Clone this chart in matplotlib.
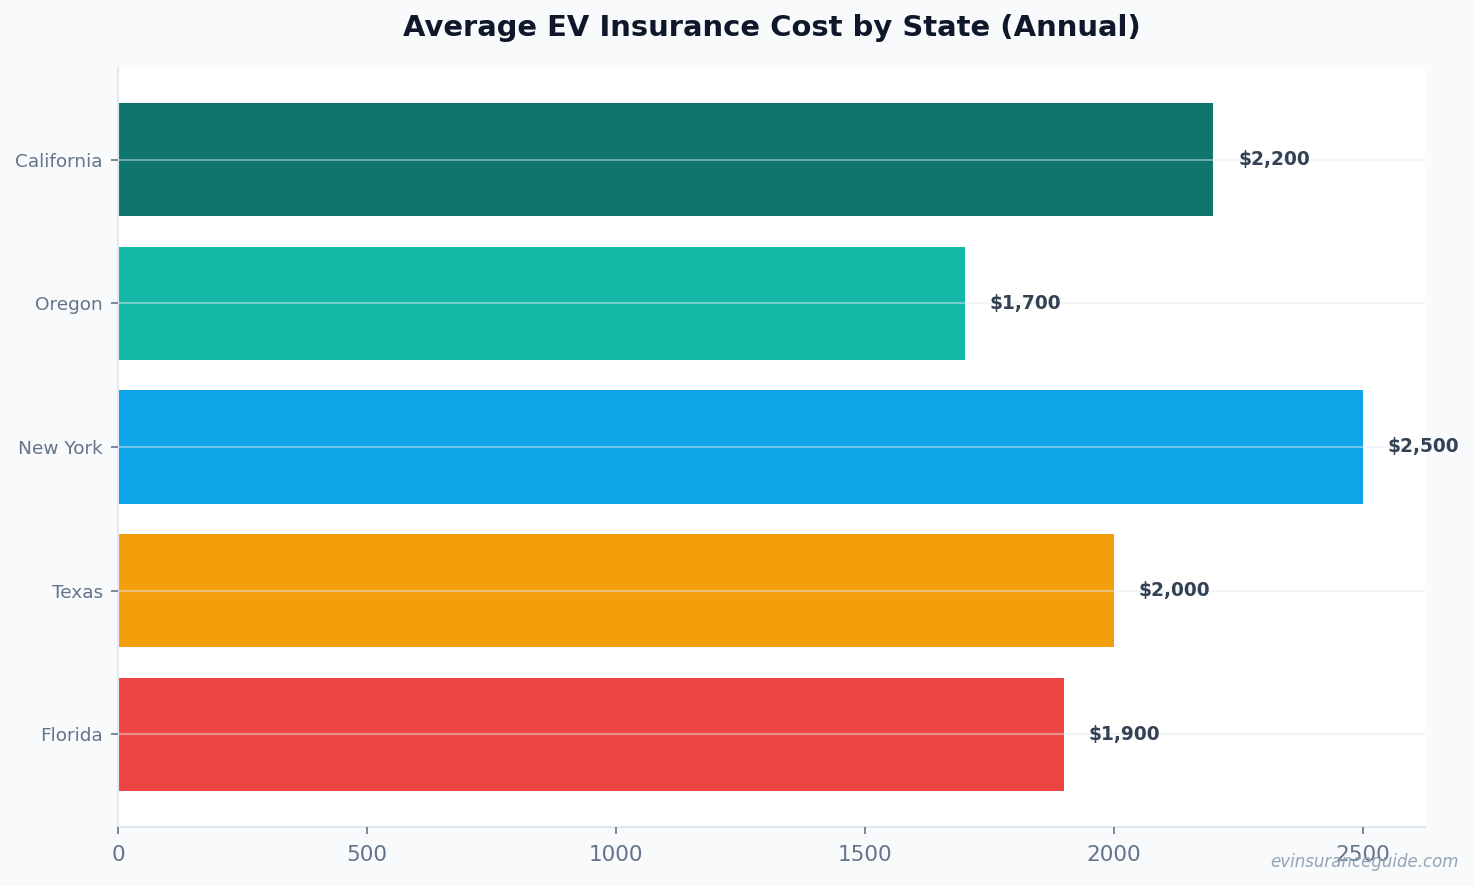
import matplotlib.pyplot as plt

# Data
states = ['California', 'Oregon', 'New York', 'Texas', 'Florida']
costs = [2200, 1700, 2500, 2000, 1900]
bar_colors = ['#0f766e', '#14b8a6', '#0ea5e9', '#f59e0b', '#ef4444']

fig = plt.figure(figsize=(14.74, 8.86), dpi=100, facecolor='#f8fafc')
ax = fig.add_axes([0.0801, 0.0666, 0.8867, 0.8578])
ax.set_facecolor('white')

ypos = list(range(len(states)))
ax.barh(ypos, costs, height=0.79, color=bar_colors, zorder=2)

# value labels
for y, v in zip(ypos, costs):
    ax.text(v + 50, y, f'${v:,}', va='center', ha='left',
            fontsize=13.4, fontweight='bold', color='#334155', zorder=4)

ax.set_yticks(ypos)
ax.set_yticklabels(states)
ax.set_ylim(4.645, -0.645)
ax.set_xlim(0, 2625)
ax.set_xticks([0, 500, 1000, 1500, 2000, 2500])

ax.tick_params(axis='y', labelsize=13.3, colors='#64748b', length=5, width=1.2, pad=6)
ax.tick_params(axis='x', labelsize=15.5, colors='#64748b', length=5, width=1.2, pad=8)
for lab in ax.get_yticklabels() + ax.get_xticklabels():
    lab.set_color('#64748b')

ax.grid(axis='y', color='#e2e8f0', alpha=0.45, linewidth=1.5, zorder=3)
ax.set_axisbelow(False)

for s in ['top', 'right']:
    ax.spines[s].set_visible(False)
for s in ['left', 'bottom']:
    ax.spines[s].set_color('#e2e8f0')
    ax.spines[s].set_linewidth(1.5)

ax.set_title('Average EV Insurance Cost by State (Annual)', fontsize=20.9,
             fontweight='bold', color='#0f172a', pad=22)

fig.text(1459 / 1474, 1 - 862 / 886, 'evinsuranceguide.com', ha='right', va='center',
         fontsize=12, style='italic', color='#94a3b8')

fig.savefig('out.png', dpi=100, facecolor=fig.get_facecolor())
